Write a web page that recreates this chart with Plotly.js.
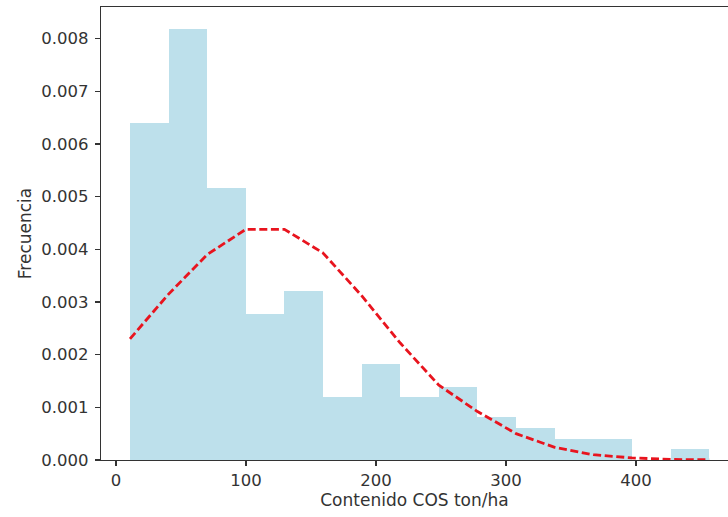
<!DOCTYPE html>
<html>
<head>
<meta charset="utf-8">
<script src="https://cdn.plot.ly/plotly-3.0.1.min.js"></script>
<style>html,body{margin:0;padding:0;background:#fff;}</style>
</head>
<body>
<div id="chart" style="width:728px;height:517px;"></div>
<script>
// Histogram bin edges (ton/ha) and density values per bin
const binEdges = [10.8, 40.5, 70.2, 99.9, 129.6, 159.3, 189.0, 218.7, 248.4, 278.1, 307.8, 337.5, 367.2, 396.9, 426.6, 456.3];
const density = [0.00639, 0.00819, 0.00517, 0.00278, 0.00321, 0.00120, 0.00182, 0.00120, 0.00139, 0.00081, 0.00060, 0.00040, 0.00040, 0.0, 0.00020];
// Fitted normal curve, read at the bin edges
const curveY = [0.00230, 0.00315, 0.00390, 0.00438, 0.00438, 0.00393, 0.00312, 0.00222, 0.00142, 0.00092, 0.00050, 0.00024, 0.00010, 0.00004, 0.00001, 0.000004];

const xTitle = "Contenido COS ton/ha";
const yTitle = "Frecuencia";

const centers = [], widths = [];
for (let i = 0; i < density.length; i++) {
  centers.push((binEdges[i] + binEdges[i + 1]) / 2);
  widths.push(binEdges[i + 1] - binEdges[i]);
}

const tickFont = {family: "DejaVu Sans, sans-serif", size: 16.5, color: "#333"};
const titleFont = {family: "DejaVu Sans, sans-serif", size: 17, color: "#333"};

Plotly.newPlot("chart", [
  {
    type: "bar", x: centers, y: density, width: widths,
    marker: {color: "#add8e6", opacity: 0.8, line: {width: 0}},
    hoverinfo: "x+y", showlegend: false
  },
  {
    type: "scatter", mode: "lines", x: binEdges, y: curveY,
    line: {color: "#e8141e", width: 2.8, dash: "8px,3.6px"},
    showlegend: false
  }
], {
  width: 728, height: 517,
  margin: {l: 101, r: 0, t: 7, b: 57},
  paper_bgcolor: "#fff", plot_bgcolor: "#fff",
  bargap: 0,
  font: tickFont,
  xaxis: {
    range: [-11.5, 470.8], tickvals: [0, 100, 200, 300, 400],
    showgrid: false, zeroline: false,
    showline: true, linecolor: "#333", linewidth: 1.3, mirror: true,
    ticks: "outside", ticklen: 5, tickcolor: "#333", tickwidth: 1.2,
    tickfont: tickFont,
    title: {text: xTitle, font: titleFont, standoff: 4}
  },
  yaxis: {
    range: [0, 0.0086], dtick: 0.001, tick0: 0, tickformat: ".3f",
    showgrid: false, zeroline: false,
    showline: true, linecolor: "#333", linewidth: 1.3,
    ticks: "outside", ticklen: 5, tickcolor: "#333", tickwidth: 1.2,
    ticklabelstandoff: 3,
    tickfont: tickFont,
    title: {text: yTitle, font: titleFont, standoff: 5}
  }
}, {displayModeBar: false, staticPlot: true});
</script>
</body>
</html>
